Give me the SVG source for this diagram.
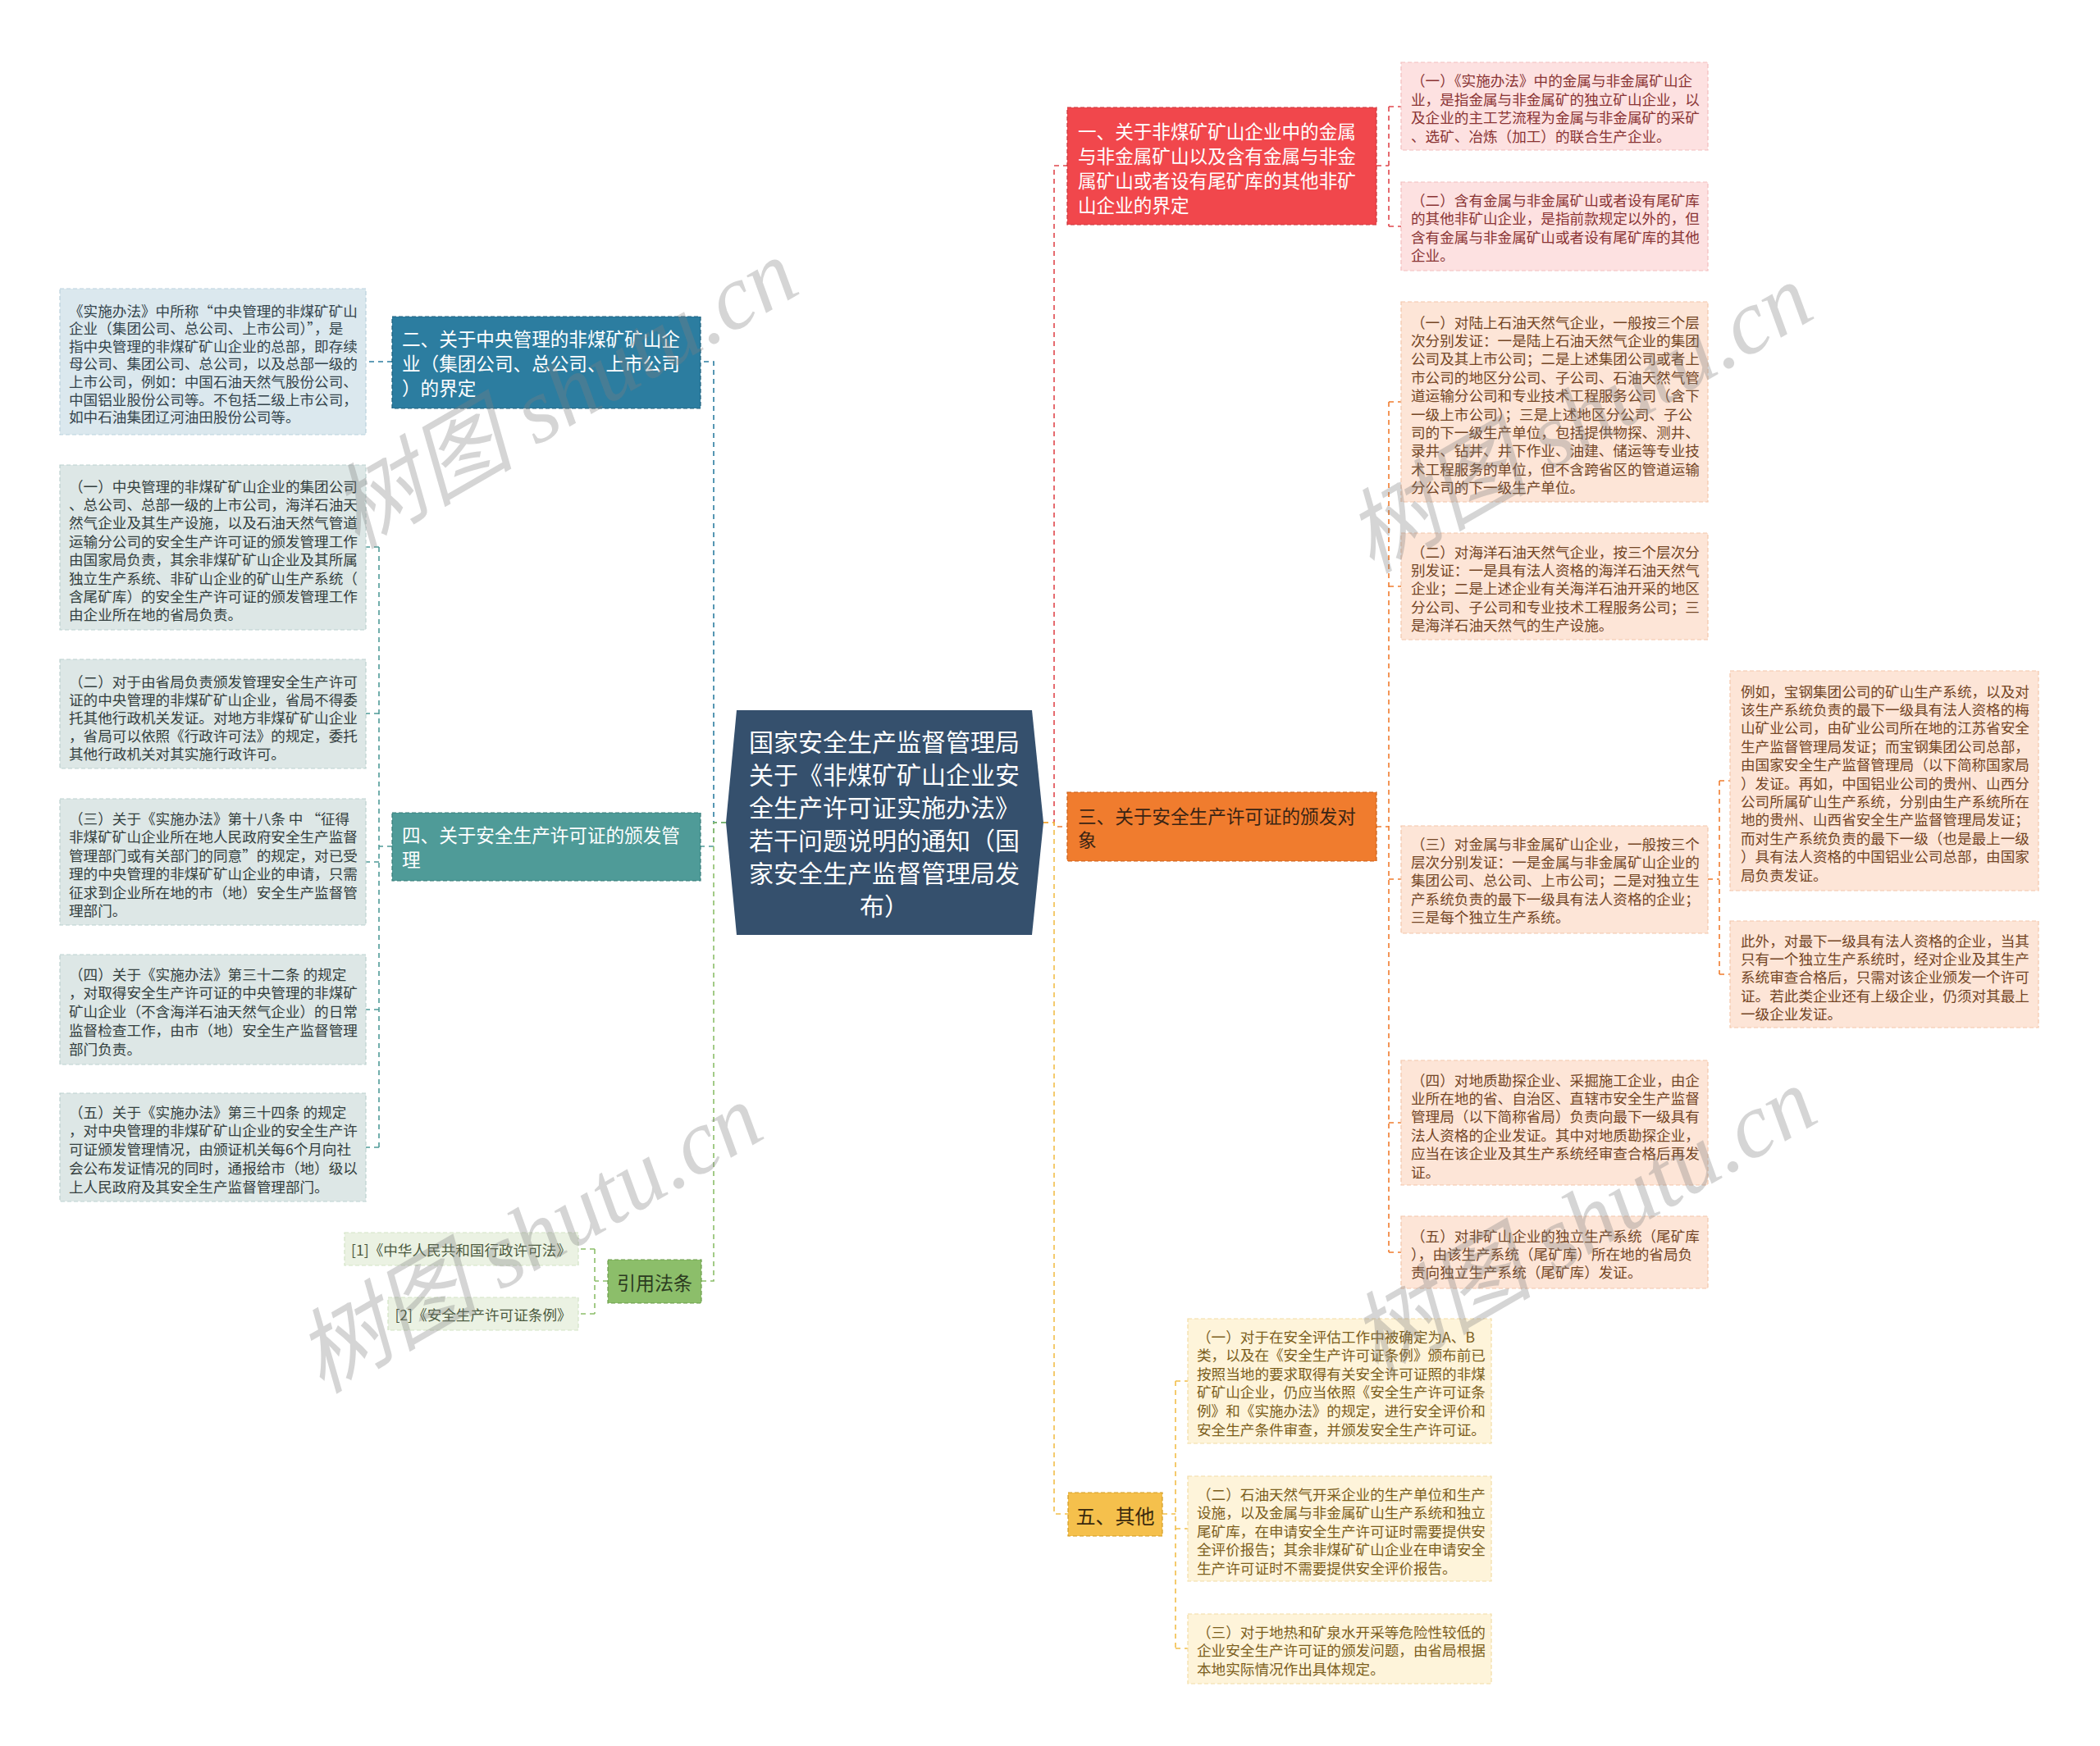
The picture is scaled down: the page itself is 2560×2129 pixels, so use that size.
<svg xmlns="http://www.w3.org/2000/svg" width="2560" height="2129" viewBox="0 0 2560 2129">
<style>
text{font-family:"Noto Sans CJK SC","Noto Sans",sans-serif;dominant-baseline:central}
.lf{font-size:17.6px}
.mn{font-size:22.6px}
.ct{font-size:30px;fill:#fff;text-anchor:middle}
.wm{font-family:"Liberation Serif","Noto Sans CJK SC",serif;font-style:italic;font-size:112px;fill:#808080;fill-opacity:0.33;text-anchor:middle}
.cn{fill:none;stroke-width:1.6;stroke-dasharray:6 5}
.nb{stroke-width:1.2;stroke-dasharray:5 3}
</style>
<rect width="2560" height="2129" fill="#fff"/>
<g id="connectors">
<path class="cn" stroke="#E0474C" d="M1272,1003H1285V202H1301"/>
<path class="cn" stroke="#F07C2E" d="M1272,1003H1285V1008H1301"/>
<path class="cn" stroke="#F2BE4A" d="M1272,1003H1285V1846H1302"/>
<path class="cn" stroke="#2C7DA0" d="M885,1003H870V441H854"/>
<path class="cn" stroke="#4F9B98" d="M885,1003H870V1032H854"/>
<path class="cn" stroke="#8CBE6A" d="M885,1003H870V1562H855"/>
<path class="cn" stroke="#E0474C" d="M1678,202H1693M1693,130V276M1693,130H1708M1693,276H1708"/>
<path class="cn" stroke="#F07C2E" d="M1678,1008H1693M1693,490V1527M1693,490H1708M1693,715H1708M1693,1072H1708M1693,1369H1708M1693,1527H1708"/>
<path class="cn" stroke="#F07C2E" d="M2082,1072H2096M2096,952V1188M2096,952H2109M2096,1188H2109"/>
<path class="cn" stroke="#F2BE4A" d="M1417,1846H1433M1433,1684V2010M1433,1684H1448M1433,1864H1448M1433,2010H1448"/>
<path class="cn" stroke="#2C7DA0" d="M478,441H446"/>
<path class="cn" stroke="#4F9B98" d="M478,1032H462M462,667V1399M462,667H446M462,870H446M462,1051H446M462,1231H446M462,1399H446"/>
<path class="cn" stroke="#8CBE6A" d="M741,1562H725M725,1523V1602M725,1523H705M725,1602H705"/>
</g>
<g id="center">
<polygon points="898,866 1258,866 1272,1003 1258,1140 898,1140 885,1003" fill="#35506D"/>
<text class="ct" x="1078" y="903">国家安全生产监督管理局</text>
<text class="ct" x="1078" y="943">关于《非煤矿矿山企业安</text>
<text class="ct" x="1078" y="983">全生产许可证实施办法》</text>
<text class="ct" x="1078" y="1023">若干问题说明的通知（国</text>
<text class="ct" x="1078" y="1063">家安全生产监督管理局发</text>
<text class="ct" x="1078" y="1103">布）</text>
</g>
<g id="n1">
<rect class="nb" x="1301" y="131" width="377" height="143" fill="#F1474C" stroke="#C9353A"/>
<g class="mn" fill="#fff">
<text x="1314" y="159">一、关于非煤矿矿山企业中的金属</text>
<text x="1314" y="189">与非金属矿山以及含有金属与非金</text>
<text x="1314" y="219">属矿山或者设有尾矿库的其他非矿</text>
<text x="1314" y="249">山企业的界定</text>
</g>
</g>
<g id="n1-1">
<rect class="nb" x="1708" y="76" width="374" height="107" fill="#FDE1E1" stroke="#F3BDBD"/>
<g class="lf" fill="#8A3434">
<text x="1720" y="97">（一）《实施办法》中的金属与非金属矿山企</text>
<text x="1720" y="120">业，是指金属与非金属矿的独立矿山企业，以</text>
<text x="1720" y="142">及企业的主工艺流程为金属与非金属矿的采矿</text>
<text x="1720" y="165">、选矿、冶炼（加工）的联合生产企业。</text>
</g>
</g>
<g id="n1-2">
<rect class="nb" x="1708" y="222" width="374" height="108" fill="#FDE1E1" stroke="#F3BDBD"/>
<g class="lf" fill="#8A3434">
<text x="1720" y="243">（二）含有金属与非金属矿山或者设有尾矿库</text>
<text x="1720" y="265">的其他非矿山企业，是指前款规定以外的，但</text>
<text x="1720" y="288">含有金属与非金属矿山或者设有尾矿库的其他</text>
<text x="1720" y="310">企业。</text>
</g>
</g>
<g id="n3">
<rect class="nb" x="1301" y="966" width="377" height="84" fill="#F07C2E" stroke="#C95F18"/>
<g class="mn" fill="#3A2414">
<text x="1314" y="994">三、关于安全生产许可证的颁发对</text>
<text x="1314" y="1023">象</text>
</g>
</g>
<g id="n3-1">
<rect class="nb" x="1708" y="368" width="374" height="244" fill="#FDE5D7" stroke="#F3C6AA"/>
<g class="lf" fill="#744626">
<text x="1720" y="392">（一）对陆上石油天然气企业，一般按三个层</text>
<text x="1720" y="414.4">次分别发证：一是陆上石油天然气企业的集团</text>
<text x="1720" y="436.8">公司及其上市公司；二是上述集团公司或者上</text>
<text x="1720" y="459.2">市公司的地区分公司、子公司、石油天然气管</text>
<text x="1720" y="481.6">道运输分公司和专业技术工程服务公司（含下</text>
<text x="1720" y="504">一级上市公司）；三是上述地区分公司、子公</text>
<text x="1720" y="526.4">司的下一级生产单位，包括提供物探、测井、</text>
<text x="1720" y="548.8">录井、钻井、井下作业、油建、储运等专业技</text>
<text x="1720" y="571.2">术工程服务的单位，但不含跨省区的管道运输</text>
<text x="1720" y="593.6">分公司的下一级生产单位。</text>
</g>
</g>
<g id="n3-2">
<rect class="nb" x="1708" y="650" width="374" height="130" fill="#FDE5D7" stroke="#F3C6AA"/>
<g class="lf" fill="#744626">
<text x="1720" y="672">（二）对海洋石油天然气企业，按三个层次分</text>
<text x="1720" y="694.4">别发证：一是具有法人资格的海洋石油天然气</text>
<text x="1720" y="716.8">企业；二是上述企业有关海洋石油开采的地区</text>
<text x="1720" y="739.2">分公司、子公司和专业技术工程服务公司；三</text>
<text x="1720" y="761.6">是海洋石油天然气的生产设施。</text>
</g>
</g>
<g id="n3-3">
<rect class="nb" x="1708" y="1007" width="374" height="131" fill="#FDE5D7" stroke="#F3C6AA"/>
<g class="lf" fill="#744626">
<text x="1720" y="1028">（三）对金属与非金属矿山企业，一般按三个</text>
<text x="1720" y="1050.4">层次分别发证：一是金属与非金属矿山企业的</text>
<text x="1720" y="1072.8">集团公司、总公司、上市公司；二是对独立生</text>
<text x="1720" y="1095.2">产系统负责的最下一级具有法人资格的企业；</text>
<text x="1720" y="1117.6">三是每个独立生产系统。</text>
</g>
</g>
<g id="n3-3-1">
<rect class="nb" x="2109" y="818" width="376" height="268" fill="#FDE5D7" stroke="#F3C6AA"/>
<g class="lf" fill="#744626">
<text x="2122" y="842">例如，宝钢集团公司的矿山生产系统，以及对</text>
<text x="2122" y="864.4">该生产系统负责的最下一级具有法人资格的梅</text>
<text x="2122" y="886.8">山矿业公司，由矿业公司所在地的江苏省安全</text>
<text x="2122" y="909.2">生产监督管理局发证；而宝钢集团公司总部，</text>
<text x="2122" y="931.6">由国家安全生产监督管理局（以下简称国家局</text>
<text x="2122" y="954">）发证。再如，中国铝业公司的贵州、山西分</text>
<text x="2122" y="976.4">公司所属矿山生产系统，分别由生产系统所在</text>
<text x="2122" y="998.8">地的贵州、山西省安全生产监督管理局发证；</text>
<text x="2122" y="1021.2">而对生产系统负责的最下一级（也是最上一级</text>
<text x="2122" y="1043.6">）具有法人资格的中国铝业公司总部，由国家</text>
<text x="2122" y="1066">局负责发证。</text>
</g>
</g>
<g id="n3-3-2">
<rect class="nb" x="2109" y="1123" width="376" height="130" fill="#FDE5D7" stroke="#F3C6AA"/>
<g class="lf" fill="#744626">
<text x="2122" y="1146">此外，对最下一级具有法人资格的企业，当其</text>
<text x="2122" y="1168.4">只有一个独立生产系统时，经对企业及其生产</text>
<text x="2122" y="1190.8">系统审查合格后，只需对该企业颁发一个许可</text>
<text x="2122" y="1213.2">证。若此类企业还有上级企业，仍须对其最上</text>
<text x="2122" y="1235.6">一级企业发证。</text>
</g>
</g>
<g id="n3-4">
<rect class="nb" x="1708" y="1293" width="374" height="152" fill="#FDE5D7" stroke="#F3C6AA"/>
<g class="lf" fill="#744626">
<text x="1720" y="1316">（四）对地质勘探企业、采掘施工企业，由企</text>
<text x="1720" y="1338.4">业所在地的省、自治区、直辖市安全生产监督</text>
<text x="1720" y="1360.8">管理局（以下简称省局）负责向最下一级具有</text>
<text x="1720" y="1383.2">法人资格的企业发证。其中对地质勘探企业，</text>
<text x="1720" y="1405.6">应当在该企业及其生产系统经审查合格后再发</text>
<text x="1720" y="1428">证。</text>
</g>
</g>
<g id="n3-5">
<rect class="nb" x="1708" y="1483" width="374" height="88" fill="#FDE5D7" stroke="#F3C6AA"/>
<g class="lf" fill="#744626">
<text x="1720" y="1506">（五）对非矿山企业的独立生产系统（尾矿库</text>
<text x="1720" y="1528.4">），由该生产系统（尾矿库）所在地的省局负</text>
<text x="1720" y="1550.8">责向独立生产系统（尾矿库）发证。</text>
</g>
</g>
<g id="n5">
<rect class="nb" x="1302" y="1820" width="115" height="53" fill="#F5C04C" stroke="#D29C22"/>
<text x="1359.5" y="1847" font-size="24" fill="#3A2A0E" text-anchor="middle">五、其他</text>
</g>
<g id="n5-1">
<rect class="nb" x="1448" y="1608" width="370" height="152" fill="#FEF4DA" stroke="#F2DCA4"/>
<g class="lf" fill="#7C5E1C">
<text x="1459" y="1629">（一）对于在安全评估工作中被确定为A、B</text>
<text x="1459" y="1651.6">类，以及在《安全生产许可证条例》颁布前已</text>
<text x="1459" y="1674.2">按照当地的要求取得有关安全许可证照的非煤</text>
<text x="1459" y="1696.8">矿矿山企业，仍应当依照《安全生产许可证条</text>
<text x="1459" y="1719.4">例》和《实施办法》的规定，进行安全评价和</text>
<text x="1459" y="1742">安全生产条件审查，并颁发安全生产许可证。</text>
</g>
</g>
<g id="n5-2">
<rect class="nb" x="1448" y="1800" width="370" height="128" fill="#FEF4DA" stroke="#F2DCA4"/>
<g class="lf" fill="#7C5E1C">
<text x="1459" y="1821">（二）石油天然气开采企业的生产单位和生产</text>
<text x="1459" y="1843.6">设施，以及金属与非金属矿山生产系统和独立</text>
<text x="1459" y="1866.2">尾矿库，在申请安全生产许可证时需要提供安</text>
<text x="1459" y="1888.8">全评价报告；其余非煤矿矿山企业在申请安全</text>
<text x="1459" y="1911.4">生产许可证时不需要提供安全评价报告。</text>
</g>
</g>
<g id="n5-3">
<rect class="nb" x="1448" y="1968" width="370" height="85" fill="#FEF4DA" stroke="#F2DCA4"/>
<g class="lf" fill="#7C5E1C">
<text x="1459" y="1989">（三）对于地热和矿泉水开采等危险性较低的</text>
<text x="1459" y="2011.6">企业安全生产许可证的颁发问题，由省局根据</text>
<text x="1459" y="2034.2">本地实际情况作出具体规定。</text>
</g>
</g>
<g id="n2">
<rect class="nb" x="478" y="386" width="376" height="112" fill="#2C7DA0" stroke="#1D5F7C"/>
<g class="mn" fill="#fff">
<text x="490" y="412">二、关于中央管理的非煤矿矿山企</text>
<text x="490" y="442">业（集团公司、总公司、上市公司</text>
<text x="490" y="472">）的界定</text>
</g>
</g>
<g id="n2-1">
<rect class="nb" x="73" y="352" width="373" height="178" fill="#DBE8EE" stroke="#B9D1DD"/>
<g class="lf" fill="#34444C">
<text x="84" y="378">《实施办法》中所称“中央管理的非煤矿矿山</text>
<text x="84" y="399.6">企业（集团公司、总公司、上市公司）”，是</text>
<text x="84" y="421.2">指中央管理的非煤矿矿山企业的总部，即存续</text>
<text x="84" y="442.8">母公司、集团公司、总公司，以及总部一级的</text>
<text x="84" y="464.4">上市公司，例如：中国石油天然气股份公司、</text>
<text x="84" y="486">中国铝业股份公司等。不包括二级上市公司，</text>
<text x="84" y="507.6">如中石油集团辽河油田股份公司等。</text>
</g>
</g>
<g id="n4">
<rect class="nb" x="478" y="991" width="376" height="83" fill="#4F9B98" stroke="#367C79"/>
<g class="mn" fill="#fff">
<text x="490" y="1017">四、关于安全生产许可证的颁发管</text>
<text x="490" y="1047">理</text>
</g>
</g>
<g id="n4-1">
<rect class="nb" x="73" y="567" width="373" height="201" fill="#DDE7E6" stroke="#BCD1CF"/>
<g class="lf" fill="#34403F">
<text x="84" y="592">（一）中央管理的非煤矿矿山企业的集团公司</text>
<text x="84" y="614.4">、总公司、总部一级的上市公司，海洋石油天</text>
<text x="84" y="636.8">然气企业及其生产设施，以及石油天然气管道</text>
<text x="84" y="659.2">运输分公司的安全生产许可证的颁发管理工作</text>
<text x="84" y="681.6">由国家局负责，其余非煤矿矿山企业及其所属</text>
<text x="84" y="704">独立生产系统、非矿山企业的矿山生产系统（</text>
<text x="84" y="726.4">含尾矿库）的安全生产许可证的颁发管理工作</text>
<text x="84" y="748.8">由企业所在地的省局负责。</text>
</g>
</g>
<g id="n4-2">
<rect class="nb" x="73" y="804" width="373" height="133" fill="#DDE7E6" stroke="#BCD1CF"/>
<g class="lf" fill="#34403F">
<text x="84" y="830">（二）对于由省局负责颁发管理安全生产许可</text>
<text x="84" y="852.2">证的中央管理的非煤矿矿山企业，省局不得委</text>
<text x="84" y="874.4">托其他行政机关发证。对地方非煤矿矿山企业</text>
<text x="84" y="896.6">，省局可以依照《行政许可法》的规定，委托</text>
<text x="84" y="918.8">其他行政机关对其实施行政许可。</text>
</g>
</g>
<g id="n4-3">
<rect class="nb" x="73" y="974" width="373" height="154" fill="#DDE7E6" stroke="#BCD1CF"/>
<g class="lf" fill="#34403F">
<text x="84" y="997">（三）关于《实施办法》第十八条 中 “征得</text>
<text x="84" y="1019.5">非煤矿矿山企业所在地人民政府安全生产监督</text>
<text x="84" y="1042">管理部门或有关部门的同意”的规定，对已受</text>
<text x="84" y="1064.5">理的中央管理的非煤矿矿山企业的申请，只需</text>
<text x="84" y="1087">征求到企业所在地的市（地）安全生产监督管</text>
<text x="84" y="1109.5">理部门。</text>
</g>
</g>
<g id="n4-4">
<rect class="nb" x="73" y="1164" width="373" height="134" fill="#DDE7E6" stroke="#BCD1CF"/>
<g class="lf" fill="#34403F">
<text x="84" y="1187">（四）关于《实施办法》第三十二条 的规定</text>
<text x="84" y="1209.8">，对取得安全生产许可证的中央管理的非煤矿</text>
<text x="84" y="1232.6">矿山企业（不含海洋石油天然气企业）的日常</text>
<text x="84" y="1255.4">监督检查工作，由市（地）安全生产监督管理</text>
<text x="84" y="1278.2">部门负责。</text>
</g>
</g>
<g id="n4-5">
<rect class="nb" x="73" y="1333" width="373" height="132" fill="#DDE7E6" stroke="#BCD1CF"/>
<g class="lf" fill="#34403F">
<text x="84" y="1355">（五）关于《实施办法》第三十四条 的规定</text>
<text x="84" y="1377.8">，对中央管理的非煤矿矿山企业的安全生产许</text>
<text x="84" y="1400.6">可证颁发管理情况，由颁证机关每6个月向社</text>
<text x="84" y="1423.4">会公布发证情况的同时，通报给市（地）级以</text>
<text x="84" y="1446.2">上人民政府及其安全生产监督管理部门。</text>
</g>
</g>
<g id="n6">
<rect class="nb" x="741" y="1536" width="114" height="53" fill="#8CBE6A" stroke="#6A9C49"/>
<text x="798" y="1563" font-size="23" fill="#2B3A1F" text-anchor="middle">引用法条</text>
</g>
<g id="n6-1">
<rect class="nb" x="420" y="1503" width="285" height="40" fill="#EBF2E3" stroke="#D3E3C5"/>
<text class="lf" x="562" y="1523" fill="#4C5A40" text-anchor="middle">[1]《中华人民共和国行政许可法》</text>
</g>
<g id="n6-2">
<rect class="nb" x="473" y="1582" width="232" height="40" fill="#EBF2E3" stroke="#D3E3C5"/>
<text class="lf" x="589" y="1602" fill="#4C5A40" text-anchor="middle">[2]《安全生产许可证条例》</text>
</g>
<g id="watermarks">
<text class="wm" x="688" y="480" transform="rotate(-30 688 480)">树图 shutu.cn</text>
<text class="wm" x="1925" y="510" transform="rotate(-30 1925 510)">树图 shutu.cn</text>
<text class="wm" x="645" y="1510" transform="rotate(-30 645 1510)">树图 shutu.cn</text>
<text class="wm" x="1930" y="1490" transform="rotate(-30 1930 1490)">树图 shutu.cn</text>
</g>
</svg>
